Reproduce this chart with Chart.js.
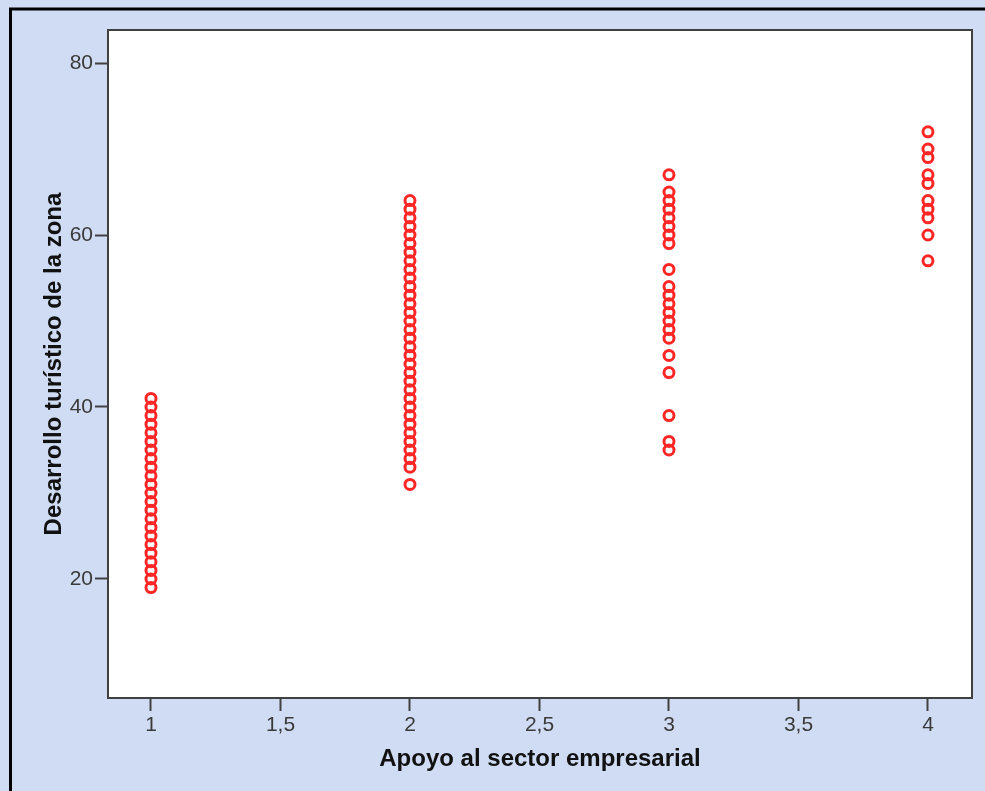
<!DOCTYPE html>
<html>
<head>
<meta charset="utf-8">
<script src="https://cdn.jsdelivr.net/npm/chart.js@4/dist/chart.umd.min.js"></script>
<style>
  body { margin: 0; background: #cfdcf3; }
  canvas { display: block; }
</style>
</head>
<body>
<canvas id="chart" width="985" height="791"></canvas>
<script>
// Apoyo al sector empresarial (x) vs Desarrollo turístico de la zona (y)
const apoyoNiveles = [1, 2, 3, 4];
const desarrolloApoyo1 = [19, 20, 21, 22, 23, 24, 25, 26, 27, 28, 29, 30, 31, 32, 33, 34, 35, 36, 37, 38, 39, 40, 41];
const desarrolloApoyo2 = [31, 33, 34, 35, 36, 37, 38, 39, 40, 41, 42, 43, 44, 45, 46, 47, 48, 49, 50,
                          51, 52, 53, 54, 55, 56, 57, 58, 59, 60, 61, 62, 63, 64];
const desarrolloApoyo3 = [35, 36, 39, 44, 46, 48, 49, 50, 51, 52, 53, 54, 56, 59, 60, 61, 62, 63, 64, 65, 67];
const desarrolloApoyo4 = [57, 60, 62, 63, 64, 66, 67, 69, 70, 72];
const xTicks = [1, 1.5, 2, 2.5, 3, 3.5, 4];
const yTicks = [20, 40, 60, 80];

const grupos = [desarrolloApoyo1, desarrolloApoyo2, desarrolloApoyo3, desarrolloApoyo4];
const puntos = [];
grupos.forEach((vals, i) => {
    vals.forEach(v => puntos.push({ x: apoyoNiveles[i], y: v }));
});

const axisColor = '#404040';
const fontFamily = 'Liberation Sans, Arial, sans-serif';

// panel background, white plot area, frame lines
const framePlugin = {
    id: 'frame',
    beforeDraw(chart) {
        const { ctx, chartArea: a } = chart;
        ctx.save();
        ctx.fillStyle = '#cfdcf3';
        ctx.fillRect(0, 0, chart.width, chart.height);
        ctx.fillStyle = '#ffffff';
        ctx.fillRect(a.left, a.top, a.right - a.left, a.bottom - a.top);
        ctx.strokeStyle = '#000';
        ctx.lineWidth = 3;
        ctx.beginPath();
        ctx.moveTo(10.5, chart.height);
        ctx.lineTo(10.5, 9);
        ctx.lineTo(chart.width, 9);
        ctx.stroke();
        ctx.restore();
    },
    afterDraw(chart) {
        const { ctx, chartArea: a } = chart;
        ctx.save();
        ctx.strokeStyle = axisColor;
        ctx.lineWidth = 2;
        ctx.beginPath();
        ctx.moveTo(a.left, a.top);
        ctx.lineTo(a.right, a.top);
        ctx.lineTo(a.right, a.bottom);
        ctx.stroke();
        ctx.restore();
    }
};

new Chart(document.getElementById('chart'), {
    type: 'scatter',
    data: {
        datasets: [{
            data: puntos,
            pointStyle: 'circle',
            pointRadius: 5,
            pointHoverRadius: 5,
            pointBorderWidth: 3,
            pointBorderColor: '#ff2626',
            pointBackgroundColor: 'rgba(0,0,0,0)'
        }]
    },
    options: {
        responsive: false,
        animation: false,
        events: [],
        layout: { padding: { top: 30, right: 13, left: 0, bottom: 0 } },
        plugins: {
            legend: { display: false },
            tooltip: { enabled: false }
        },
        scales: {
            x: {
                type: 'linear',
                min: 0.834,
                max: 4.17,
                afterBuildTicks: s => { s.ticks = xTicks.map(v => ({ value: v })); },
                afterFit: s => { s.height = 93; },
                border: { display: true, color: axisColor, width: 2 },
                grid: { drawOnChartArea: false, drawTicks: true, tickLength: 13, tickWidth: 2, tickColor: axisColor },
                ticks: {
                    padding: 2,
                    color: '#3a3a3a',
                    font: { family: fontFamily, size: 21 },
                    callback: v => String(v).replace('.', ',')
                },
                title: {
                    display: true,
                    text: 'Apoyo al sector empresarial',
                    color: '#111',
                    font: { family: fontFamily, size: 24, weight: 'bold' },
                    padding: { top: 0, bottom: 17 }
                }
            },
            y: {
                type: 'linear',
                min: 6.16,
                max: 83.84,
                afterBuildTicks: s => { s.ticks = yTicks.map(v => ({ value: v })); },
                afterFit: s => { s.width = 108; },
                border: { display: true, color: axisColor, width: 2 },
                grid: { drawOnChartArea: false, drawTicks: true, tickLength: 13, tickWidth: 2, tickColor: axisColor },
                ticks: {
                    padding: 2,
                    color: '#3a3a3a',
                    font: { family: fontFamily, size: 21 }
                },
                title: {
                    display: true,
                    text: 'Desarrollo turístico de la zona',
                    color: '#111',
                    font: { family: fontFamily, size: 24, weight: 'bold' },
                    padding: { top: 40, bottom: 0 }
                }
            }
        }
    },
    plugins: [framePlugin]
});
</script>
</body>
</html>
